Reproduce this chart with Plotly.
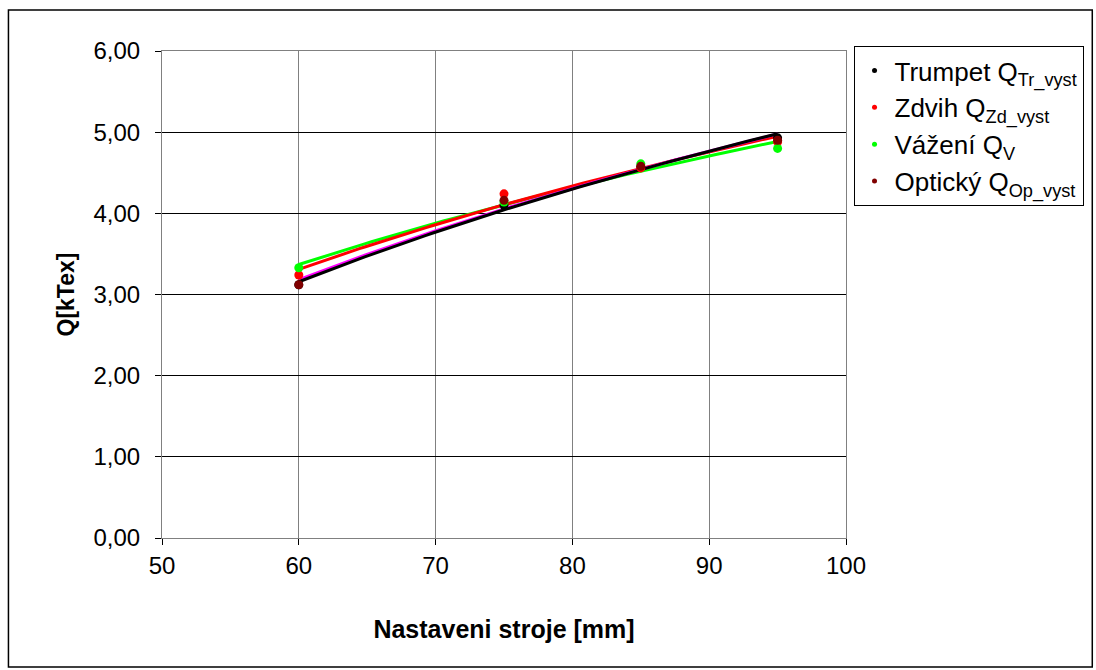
import numpy as np
import plotly.graph_objects as go

x_vals = [60, 75, 85, 95]
trumpet = [3.12, 4.10, 4.57, 4.93]
zdvih = [3.24, 4.24, 4.56, 4.88]
vazeni = [3.33, 4.14, 4.61, 4.80]
opticky = [3.12, 4.16, 4.58, 4.90]

names = ["Trumpet Q<sub>Tr_vyst</sub>", "Zdvih Q<sub>Zd_vyst</sub>",
         "Vážení Q<sub>V</sub>", "Optický Q<sub>Op_vyst</sub>"]
series = [trumpet, zdvih, vazeni, opticky]
marker_colors = ["#000000", "#FF0000", "#00FF00", "#800000"]
trend_colors = ["#000000", "#FF0000", "#00FF00", "#FF00FF"]

fig = go.Figure()

# logarithmic trendlines fitted from the data
xs = np.linspace(min(x_vals), max(x_vals), 80)
for i in [2, 1, 3, 0]:
    a, b = np.polyfit(np.log(x_vals), series[i], 1)
    fig.add_trace(go.Scatter(x=xs, y=a * np.log(xs) + b, mode="lines",
                             line=dict(color=trend_colors[i], width=3),
                             showlegend=False, hoverinfo="skip"))

for i in range(4):
    fig.add_trace(go.Scatter(x=x_vals, y=series[i], mode="markers",
                             marker=dict(color=marker_colors[i], size=9),
                             showlegend=False))
# legend-only entries with small markers
for i in range(4):
    fig.add_trace(go.Scatter(x=[None], y=[None], mode="markers", name=names[i],
                             marker=dict(color=marker_colors[i], size=5)))

FONT = "Arial, Liberation Sans, sans-serif"
fig.update_layout(
    width=1096, height=670,
    margin=dict(l=162, r=248, t=51, b=132),
    paper_bgcolor="white", plot_bgcolor="white",
    separators=", ",
    font=dict(family=FONT, size=24, color="black"),
    legend=dict(x=1.011, y=1.01, xanchor="left", yanchor="top",
                bordercolor="black", borderwidth=1, font=dict(size=26),
                tracegroupgap=0, itemwidth=30),
    showlegend=True,
)
fig.update_xaxes(range=[50, 100], dtick=10, tick0=50,
                 showgrid=True, gridcolor="#808080", gridwidth=1,
                 showline=True, linecolor="#808080", mirror=True,
                 ticks="outside", ticklen=6, tickcolor="black",
                 tickfont=dict(size=24),
                 zeroline=False,
                 title=dict(text="<b>Nastaveni stroje [mm]</b>", font=dict(size=25), standoff=42))
fig.update_yaxes(range=[0, 6], dtick=1, tickformat=".2f",
                 showgrid=True, gridcolor="black", gridwidth=1,
                 showline=True, linecolor="#808080", mirror=True,
                 ticks="outside", ticklen=6, tickcolor="black",
                 tickfont=dict(size=24), ticklabelstandoff=10,
                 zeroline=False,
                 title=dict(text="<b>Q[kTex]</b>", font=dict(size=23), standoff=12))

# outer chart border
fig.add_shape(type="rect", xref="paper", yref="paper",
              x0=(8 - 162) / 686, x1=(1095 - 162) / 686,
              y0=(538 - 667) / 487, y1=(538 - 10) / 487,
              line=dict(color="black", width=1.5), fillcolor="rgba(0,0,0,0)")

fig.write_html("out.html")
